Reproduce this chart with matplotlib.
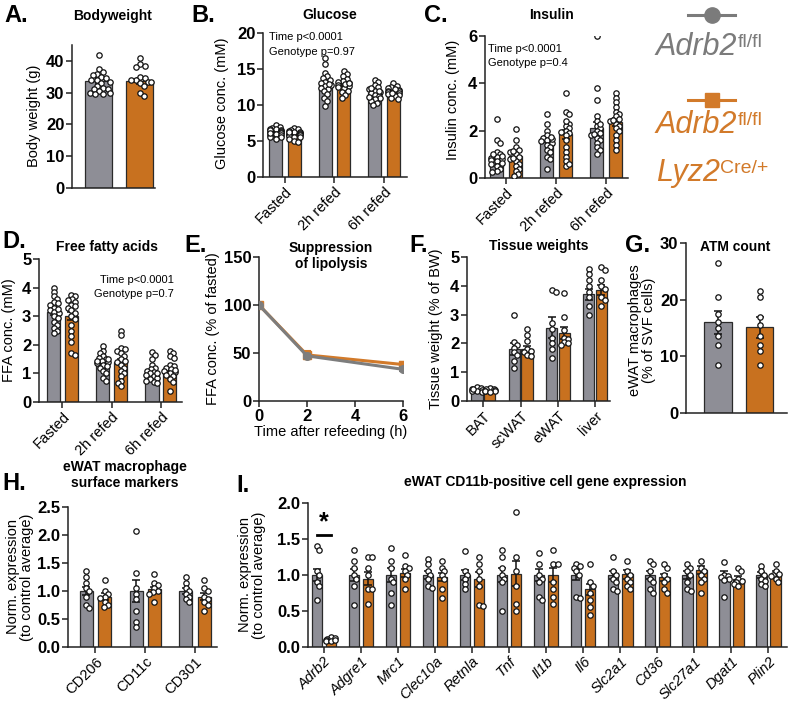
import numpy as np
import matplotlib
matplotlib.use('Agg')
import matplotlib.pyplot as plt

plt.rcParams['font.family'] = ['Liberation Sans', 'DejaVu Sans']

W, H, DPI = 789, 706, 100
GRAY = '#8e8e96'
ORANGE = '#c8711f'
LEG_GRAY = '#7b7b7b'
LEG_ORANGE = '#d27a2a'
EDGE = '#2a2a2a'

# ---------------- data ----------------
# A. Bodyweight
bw_mean = [33.8, 33.6]
bw_sem = [0.7, 0.9]
bw_gray_pts = [42, 37.5, 36.5, 36, 35.5, 35, 34.5, 34, 34, 33.5, 33, 32, 31.5, 31, 30.5, 30, 29.5, 29.5, 31, 30]
bw_orange_pts = [41, 39, 38.5, 38, 35, 34.5, 34, 34, 33.5, 33.5, 33, 32, 30, 29]

# B/C/D time course categories
time_cats = ['Fasted', '2h refed', '6h refed']

glu_gray_mean = [6.3, 12.9, 11.7]
glu_gray_sem = [0.15, 0.35, 0.25]
glu_orange_mean = [6.1, 12.9, 11.8]
glu_orange_sem = [0.15, 0.25, 0.2]
glu_gray_pts = [
    [7.2, 7.0, 6.8, 6.6, 6.5, 6.4, 6.3, 6.2, 6.1, 6.0, 5.9, 5.8, 5.6, 5.5, 5.3, 6.7, 6.5, 6.1],
    [16.5, 15.7, 14.5, 14.0, 13.8, 13.5, 13.2, 13.0, 12.8, 12.6, 12.4, 12.2, 12.0, 11.5, 11.0, 10.5, 9.8, 12.9],
    [13.5, 13.2, 12.8, 12.5, 12.2, 12.0, 11.8, 11.6, 11.4, 11.2, 11.0, 10.8, 10.5, 10.3, 12.4, 11.9, 11.1, 10.0]]
glu_orange_pts = [
    [6.8, 6.6, 6.5, 6.3, 6.2, 6.1, 6.0, 6.0, 5.9, 5.8, 5.7, 5.6, 5.5, 5.3, 5.0, 4.8, 6.4, 6.2],
    [14.7, 14.3, 14.0, 13.6, 13.4, 13.2, 13.0, 12.8, 12.7, 12.5, 12.3, 12.0, 11.8, 11.4, 11.0, 12.9, 13.1],
    [13.0, 12.7, 12.5, 12.3, 12.1, 12.0, 11.9, 11.8, 11.6, 11.5, 11.4, 11.2, 11.0, 10.8, 12.2, 11.7]]

ins_gray_mean = [0.9, 1.65, 2.1]
ins_gray_sem = [0.14, 0.13, 0.28]
ins_orange_mean = [0.95, 1.85, 2.35]
ins_orange_sem = [0.13, 0.19, 0.17]
ins_gray_pts = [
    [2.5, 1.6, 1.5, 1.1, 1.0, 0.9, 0.85, 0.8, 0.75, 0.7, 0.6, 0.5, 0.4, 0.3, 0.25, 1.0, 0.95, 0.65],
    [2.7, 2.3, 2.0, 1.8, 1.7, 1.6, 1.5, 1.4, 1.3, 1.2, 1.1, 0.9, 0.8, 0.4, 1.65, 1.55, 1.75],
    [6.0, 3.8, 3.3, 2.6, 2.4, 2.2, 2.1, 2.0, 1.9, 1.8, 1.7, 1.6, 1.5, 1.3, 1.2, 1.0, 2.3, 1.85]]
ins_orange_pts = [
    [2.05, 1.6, 1.3, 1.2, 1.1, 1.0, 0.9, 0.8, 0.7, 0.6, 0.5, 0.4, 0.3, 0.15, 0.1, 1.15, 0.85],
    [3.6, 2.8, 2.7, 2.3, 2.2, 2.1, 2.0, 1.9, 1.8, 1.6, 1.3, 1.1, 0.9, 0.7, 0.5, 1.95, 2.4, 0.6],
    [3.6, 3.4, 3.2, 3.0, 2.8, 2.7, 2.6, 2.5, 2.4, 2.3, 2.2, 2.1, 2.0, 1.8, 1.6, 1.4, 1.2, 2.45]]

ffa_gray_mean = [3.15, 1.4, 1.05]
ffa_gray_sem = [0.1, 0.07, 0.07]
ffa_orange_mean = [3.0, 1.4, 1.1]
ffa_orange_sem = [0.15, 0.12, 0.09]
ffa_gray_pts = [
    [4.0, 3.85, 3.7, 3.6, 3.5, 3.4, 3.3, 3.2, 3.15, 3.1, 3.0, 2.95, 2.8, 2.7, 2.6, 2.5, 2.4, 3.45, 3.25],
    [1.95, 1.8, 1.7, 1.6, 1.55, 1.5, 1.45, 1.4, 1.35, 1.3, 1.25, 1.2, 1.1, 1.0, 0.85, 0.75, 1.5, 1.42],
    [1.75, 1.65, 1.5, 1.3, 1.2, 1.15, 1.1, 1.05, 1.0, 0.95, 0.9, 0.85, 0.8, 0.75, 0.7, 0.65, 1.02]]
ffa_orange_pts = [
    [3.75, 3.7, 3.6, 3.55, 3.5, 3.4, 3.3, 3.2, 3.1, 3.0, 2.9, 2.7, 2.5, 2.3, 2.1, 1.7, 1.65, 3.35],
    [2.5, 2.35, 1.9, 1.85, 1.8, 1.7, 1.6, 1.5, 1.4, 1.3, 1.2, 1.1, 1.0, 0.9, 0.75, 0.65, 0.55, 1.45],
    [1.8, 1.7, 1.6, 1.55, 1.3, 1.25, 1.2, 1.15, 1.1, 1.05, 1.0, 0.95, 0.9, 0.8, 0.7, 0.4, 1.12]]

# E. Suppression of lipolysis
lip_time = [0, 2, 6]
lip_gray = [100, 47, 33]
lip_gray_sem = [1, 2, 2]
lip_orange = [100, 48, 38]
lip_orange_sem = [1, 4, 3]

# F. Tissue weights
tissue_cats = ['BAT', 'scWAT', 'eWAT', 'liver']
tis_gray_mean = [0.4, 1.8, 2.55, 3.7]
tis_gray_sem = [0.03, 0.2, 0.35, 0.2]
tis_orange_mean = [0.4, 1.8, 2.37, 3.85]
tis_orange_sem = [0.02, 0.12, 0.2, 0.18]
tis_gray_pts = [[0.5, 0.45, 0.4, 0.38, 0.35, 0.33, 0.3, 0.42],
                [3.0, 2.05, 1.95, 1.85, 1.7, 1.6, 1.4, 1.15],
                [3.85, 3.8, 2.7, 2.5, 2.2, 2.0, 1.8, 1.5],
                [4.6, 4.4, 4.2, 4.0, 3.8, 3.6, 3.3, 3.0]]
tis_orange_pts = [[0.45, 0.43, 0.4, 0.38, 0.36, 0.35, 0.33, 0.3],
                  [2.5, 2.3, 2.1, 1.8, 1.75, 1.7, 1.6, 1.55],
                  [3.75, 2.9, 2.45, 2.2, 2.15, 2.05, 2.0, 1.95],
                  [4.65, 4.55, 4.2, 4.0, 3.9, 3.6, 3.5, 3.3]]

# G. ATM count
atm_mean = [16.0, 15.1]
atm_sem = [2.0, 1.8]
atm_gray_pts = [26.5, 20.5, 17.5, 16, 15, 13.5, 12, 8.5]
atm_orange_pts = [21.5, 20.5, 17, 15.5, 13.5, 12, 11, 8.5]

# H. Surface markers
surf_cats = ['CD206', 'CD11c', 'CD301']
surf_gray_mean = [1.0, 1.0, 1.0]
surf_gray_sem = [0.08, 0.19, 0.05]
surf_orange_mean = [0.9, 1.03, 0.9]
surf_orange_sem = [0.06, 0.05, 0.06]
surf_gray_pts = [[1.35, 1.25, 1.15, 1.05, 1.0, 0.9, 0.75, 0.7],
                 [2.08, 1.32, 1.05, 0.95, 0.85, 0.65, 0.45, 0.35],
                 [1.25, 1.15, 1.05, 1.0, 0.95, 0.9, 0.85, 0.8]]
surf_orange_pts = [[1.2, 1.0, 0.95, 0.9, 0.88, 0.8, 0.75, 0.72],
                   [1.3, 1.15, 1.1, 1.05, 1.0, 0.98, 0.95, 0.8],
                   [1.2, 1.05, 1.0, 0.9, 0.85, 0.8, 0.75, 0.65]]

# I. Gene expression
gene_cats = ['Adrb2', 'Adgre1', 'Mrc1', 'Clec10a', 'Retnla', 'Tnf', 'Il1b', 'Il6',
             'Slc2a1', 'Cd36', 'Slc27a1', 'Dgat1', 'Plin2']
gene_gray_mean = [1.0, 1.0, 1.0, 1.0, 1.0, 1.0, 1.0, 1.0, 1.0, 1.0, 1.0, 1.0, 1.0]
gene_gray_sem = [0.09, 0.09, 0.1, 0.05, 0.07, 0.1, 0.09, 0.07, 0.06, 0.06, 0.06, 0.05, 0.04]
gene_orange_mean = [0.1, 0.95, 1.03, 0.97, 0.94, 1.02, 1.0, 0.8, 1.01, 0.97, 1.07, 0.95, 1.02]
gene_orange_sem = [0.01, 0.09, 0.06, 0.06, 0.1, 0.17, 0.1, 0.08, 0.06, 0.05, 0.05, 0.03, 0.03]
gene_gray_pts = [[1.4, 1.35, 1.05, 1.0, 0.9, 0.85, 0.65],
                 [1.35, 1.2, 1.1, 1.0, 0.95, 0.85, 0.58],
                 [1.38, 1.2, 1.1, 0.95, 0.9, 0.75, 0.58],
                 [1.22, 1.15, 1.05, 1.0, 0.95, 0.85, 0.82],
                 [1.33, 1.05, 1.0, 0.95, 0.88, 0.8],
                 [1.35, 1.25, 1.1, 1.0, 0.95, 0.9, 0.5],
                 [1.3, 1.15, 1.0, 0.95, 0.9, 0.7, 0.65],
                 [1.15, 1.12, 1.1, 1.05, 1.0, 0.7, 0.68],
                 [1.25, 1.05, 1.0, 0.95, 0.9, 0.8, 0.78],
                 [1.2, 1.15, 1.05, 0.95, 0.9, 0.8, 0.75],
                 [1.15, 1.1, 1.05, 1.0, 0.9, 0.8, 0.78],
                 [1.18, 1.0, 0.98, 0.97, 0.95, 0.93, 0.7],
                 [1.12, 1.05, 1.0, 0.95, 0.92, 0.88, 0.85]]
gene_orange_pts = [[0.14, 0.12, 0.11, 0.1, 0.09, 0.08, 0.1],
                   [1.25, 1.25, 1.1, 1.0, 0.8, 0.8, 0.6],
                   [1.28, 1.12, 1.1, 1.05, 1.0, 0.95, 0.8],
                   [1.2, 1.1, 1.05, 1.0, 0.95, 0.8, 0.68],
                   [1.25, 1.15, 1.05, 0.95, 0.85, 0.58, 0.57],
                   [1.88, 1.25, 1.05, 0.85, 0.6, 0.5],
                   [1.35, 1.15, 1.15, 0.9, 0.8, 0.7, 0.6],
                   [1.15, 0.9, 0.85, 0.75, 0.65, 0.55, 0.45],
                   [1.2, 1.05, 1.0, 0.95, 0.9, 0.85, 0.8],
                   [1.15, 1.1, 1.0, 0.95, 0.9, 0.8, 0.75],
                   [1.2, 1.1, 1.05, 1.0, 0.95, 0.9, 0.75],
                   [1.1, 1.05, 0.95, 0.92, 0.9, 0.88, 0.85],
                   [1.15, 1.05, 1.02, 1.0, 0.98, 0.95, 0.9]]

# ---------------- figure ----------------
fig = plt.figure(figsize=(W / DPI, H / DPI), dpi=DPI)

TICK_FS = 12
CAT_FS = 10.5
LAB_FS = 10.5
TITLE_FS = 10
LET_FS = 17
ANN_FS = 8


def add_ax(l, t, r, b):
    return fig.add_axes([l / W, 1 - b / H, (r - l) / W, (b - t) / H])


def style(ax, xlim, ylim, yticks, ylabels=None):
    ax.set_xlim(*xlim)
    ax.set_ylim(*ylim)
    ax.set_yticks(yticks)
    if ylabels is not None:
        ax.set_yticklabels(ylabels)
    for s in ['top', 'right']:
        ax.spines[s].set_visible(False)
    for s in ['left', 'bottom']:
        ax.spines[s].set_linewidth(1.1)
        ax.spines[s].set_color('#222222')
    ax.tick_params(axis='both', length=4, width=1.1, color='#222222', pad=1.5)
    ax.tick_params(axis='y', labelsize=TICK_FS)
    for lab in ax.get_yticklabels():
        lab.set_fontweight('bold')
    ax.patch.set_visible(False)


def set_cats(ax, cats):
    ax.set_xticks(np.arange(len(cats)))
    ax.set_xticklabels(cats, rotation=45, ha='right', rotation_mode='anchor', fontsize=CAT_FS)


def swarm_x(ax, xc, vals, diam=5.0, maxw=None):
    vals = np.asarray(vals, dtype=float)
    disp = ax.transData.transform(np.column_stack([np.full(len(vals), xc), vals]))
    x0 = disp[0, 0]
    ys = disp[:, 1]
    order = np.argsort(-vals)
    placed = []
    out = np.zeros(len(vals))
    for i in order:
        y = ys[i]
        cands = [0.0]
        for (px, py) in placed:
            dy = y - py
            if abs(dy) < diam:
                dx = np.sqrt(diam ** 2 - dy ** 2)
                cands += [px + dx, px - dx]
        cands = sorted(cands, key=abs)
        best = 0.0
        for c in cands:
            if all((c - px) ** 2 + (y - py) ** 2 >= diam ** 2 - 1e-6 for px, py in placed):
                best = c
                break
        if maxw is not None:
            best = float(np.clip(best, -maxw, maxw))
        placed.append((best, y))
        out[i] = best
    back = ax.transData.inverted().transform(np.column_stack([x0 + out, ys]))
    return back[:, 0]


def bars(ax, xs, means, sems, pts, color, width, maxw=7, diam=4.3):
    ax.bar(xs, means, width, color=color, edgecolor=EDGE, linewidth=0.9, zorder=1)
    ax.errorbar(xs, means, yerr=sems, fmt='none', ecolor='#111111', elinewidth=1.1,
                capsize=3, capthick=1.1, zorder=3)
    for x, p in zip(xs, pts):
        px = swarm_x(ax, x, p, diam=diam, maxw=maxw)
        ax.scatter(px, p, s=15, facecolor='white', edgecolor='#111111', linewidth=0.9, zorder=4)


def grouped(ax, cats, gm, gs, gp, om, osem, op, width, offset, maxw=7):
    x = np.arange(len(cats))
    bars(ax, x - offset, gm, gs, gp, GRAY, width, maxw)
    bars(ax, x + offset, om, osem, op, ORANGE, width, maxw)
    set_cats(ax, cats)


# overlay for texts in pixel coords
ov = fig.add_axes([0, 0, 1, 1])
ov.set_xlim(0, W)
ov.set_ylim(H, 0)
ov.axis('off')
ov.patch.set_visible(False)


def T(x, y, s, **kw):
    kw.setdefault('ha', 'center')
    kw.setdefault('va', 'center')
    return ov.text(x, y, s, **kw)


def letter(x, y, s):
    T(x, y, s, ha='left', fontsize=LET_FS, fontweight='bold')


def title(x, y, s):
    T(x, y, s, fontsize=TITLE_FS, fontweight='bold', linespacing=1.2)


def ylab(x, y, s):
    T(x, y, s, fontsize=LAB_FS, rotation=90, linespacing=1.05)


# ---- A ----
axA = add_ax(72, 45, 155, 188)
style(axA, (-0.66, 1.37), (0, 45), [0, 10, 20, 30, 40])
axA.set_xticks([])
bars(axA, [0, 1], bw_mean, bw_sem, [bw_gray_pts, bw_orange_pts], GRAY, 0.66, maxw=11, diam=5)
axA.patches[1].set_facecolor(ORANGE)
letter(4, 16, 'A.')
title(113, 16, 'Bodyweight')
ylab(34, 116, 'Body weight (g)')

# ---- B ----
axB = add_ax(263, 33, 407, 177)
style(axB, (-0.444, 2.465), (0, 20), [0, 5, 10, 15, 20])
grouped(axB, time_cats, glu_gray_mean, glu_gray_sem, glu_gray_pts,
        glu_orange_mean, glu_orange_sem, glu_orange_pts, 0.26, 0.19, maxw=5.5)
letter(191, 15, 'B.')
title(330, 15, 'Glucose')
ylab(222, 103, 'Glucose conc. (mM)')
T(269, 37, 'Time p<0.0001', ha='left', fontsize=ANN_FS)
T(269, 52, 'Genotype p=0.97', ha='left', fontsize=ANN_FS)

# ---- C ----
axC = add_ax(485, 36, 628, 178)
style(axC, (-0.42, 2.44), (0, 6), [0, 2, 4, 6])
grouped(axC, time_cats, ins_gray_mean, ins_gray_sem, ins_gray_pts,
        ins_orange_mean, ins_orange_sem, ins_orange_pts, 0.26, 0.19, maxw=5.5)
letter(424, 15, 'C.')
title(552, 15, 'Insulin')
ylab(453, 100, 'Insulin conc. (mM)')
T(488, 49, 'Time p<0.0001', ha='left', fontsize=ANN_FS)
T(488, 63, 'Genotype p=0.4', ha='left', fontsize=ANN_FS)

# ---- legend ----
ov.plot([688, 735], [15, 15], color=LEG_GRAY, lw=2.2)
ov.plot([712], [15], marker='o', markersize=11, color=LEG_GRAY)
ov.plot([688, 735], [100, 100], color=LEG_ORANGE, lw=2.2)
ov.plot([712], [100], marker='s', markersize=10.5, color=LEG_ORANGE)


def sup_text(x, y, main, sup, color):
    t = ov.text(x, y, main, fontsize=22, fontstyle='italic', color=color, ha='left', va='baseline')
    ov.annotate(sup, xy=(1.0, 0.93), xycoords=t, ha='left', va='top', fontsize=14, color=color)


sup_text(656, 55, 'Adrb2', 'fl/fl', LEG_GRAY)
sup_text(656, 133, 'Adrb2', 'fl/fl', LEG_ORANGE)
sup_text(656, 181, 'Lyz2', 'Cre/+', LEG_ORANGE)

# ---- D ----
axD = add_ax(39, 259, 182, 402)
style(axD, (-0.477, 2.43), (0, 5), [0, 1, 2, 3, 4, 5])
grouped(axD, time_cats, ffa_gray_mean, ffa_gray_sem, ffa_gray_pts,
        ffa_orange_mean, ffa_orange_sem, ffa_orange_pts, 0.27, 0.18, maxw=5.5)
letter(2, 242, 'D.')
title(107, 247, 'Free fatty acids')
ylab(9, 330, 'FFA conc. (mM)')
T(174, 280, 'Time p<0.0001', ha='right', fontsize=ANN_FS)
T(174, 294, 'Genotype p=0.7', ha='right', fontsize=ANN_FS)

# ---- E ----
axE = add_ax(259, 257, 403, 401)
style(axE, (0, 6), (0, 150), [0, 50, 100, 150])
axE.set_xticks([0, 2, 4, 6])
axE.tick_params(axis='x', labelsize=TICK_FS)
for lab in axE.get_xticklabels():
    lab.set_fontweight('bold')
axE.errorbar(lip_time, lip_orange, yerr=lip_orange_sem, color=LEG_ORANGE, lw=2.2,
             marker='s', markersize=5.5, capsize=3, capthick=1.5, elinewidth=1.5, zorder=3)
axE.errorbar(lip_time, lip_gray, yerr=lip_gray_sem, color='#7d7d7d', lw=2.2,
             marker='o', markersize=5.5, capsize=3, capthick=1.5, elinewidth=1.5, zorder=4)
axE.set_xlabel('Time after refeeding (h)', fontsize=LAB_FS, labelpad=1)
letter(184, 245, 'E.')
title(331, 256, 'Suppression\nof lipolysis')
ylab(213, 329, 'FFA conc. (% of fasted)')

# ---- F ----
axF = add_ax(467, 257, 610, 401)
style(axF, (-0.44, 3.40), (0, 5), [0, 1, 2, 3, 4, 5])
grouped(axF, tissue_cats, tis_gray_mean, tis_gray_sem, tis_gray_pts,
        tis_orange_mean, tis_orange_sem, tis_orange_pts, 0.3, 0.17, maxw=5)
letter(409, 245, 'F.')
title(539, 246, 'Tissue weights')
ylab(436, 329, 'Tissue weight (% of BW)')

# ---- G ----
axG = add_ax(686, 243, 787, 413)
style(axG, (-0.77, 1.66), (0, 30), [0, 10, 20, 30])
axG.set_xticks([])
bars(axG, [0, 1], atm_mean, atm_sem, [atm_gray_pts, atm_orange_pts], GRAY, 0.66, maxw=11, diam=5)
axG.patches[1].set_facecolor(ORANGE)
letter(625, 245, 'G.')
title(735, 247, 'ATM count')
ylab(642, 330, 'eWAT macrophages\n(% of SVF cells)')

# ---- H ----
axH = add_ax(68, 507, 217, 647)
style(axH, (-0.55, 2.44), (0, 2.5), [0, 0.5, 1.0, 1.5, 2.0, 2.5],
      ['0.0', '0.5', '1.0', '1.5', '2.0', '2.5'])
grouped(axH, surf_cats, surf_gray_mean, surf_gray_sem, surf_gray_pts,
        surf_orange_mean, surf_orange_sem, surf_orange_pts, 0.26, 0.185, maxw=5.5)
letter(2, 483, 'H.')
title(125, 475, 'eWAT macrophage\nsurface markers')
ylab(20, 577, 'Norm. expression\n(to control average)')

# ---- I ----
axI = add_ax(308, 503, 787, 647)
style(axI, (-0.43, 12.5), (0, 2.0), [0, 0.5, 1.0, 1.5, 2.0],
      ['0.0', '0.5', '1.0', '1.5', '2.0'])
grouped(axI, gene_cats, gene_gray_mean, gene_gray_sem, gene_gray_pts,
        gene_orange_mean, gene_orange_sem, gene_orange_pts, 0.28, 0.19, maxw=4.5)
for lab in axI.get_xticklabels():
    lab.set_fontstyle('italic')
axI.plot([-0.19, 0.19], [1.55, 1.55], color='black', lw=2)
axI.text(0, 1.56, '*', ha='center', va='bottom', fontsize=18, fontweight='bold')
letter(236, 485, 'I.')
title(545, 482, 'eWAT CD11b-positive cell gene expression')
ylab(252, 575, 'Norm. expression\n(to control average)')

fig.savefig('out.png', dpi=DPI)
